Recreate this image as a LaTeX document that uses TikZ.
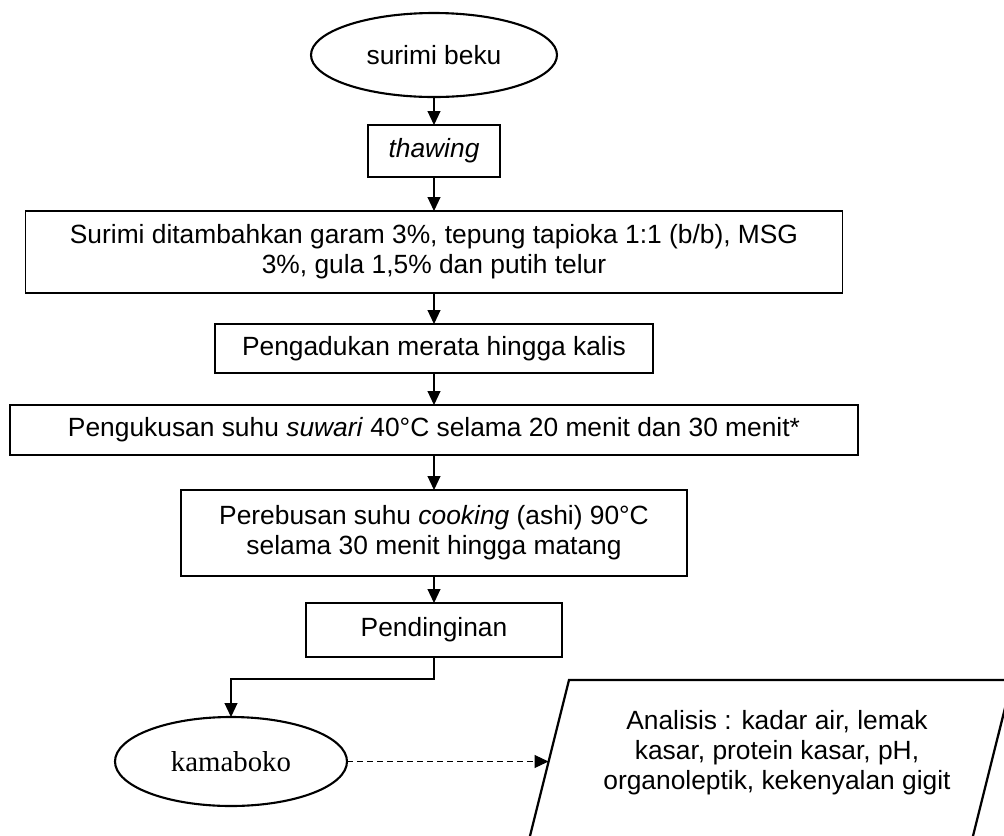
\documentclass[tikz,border=0pt]{standalone}
\usepackage{fontspec}
\setmainfont{Liberation Sans}
\newfontfamily\kamfont{Liberation Serif}
\usetikzlibrary{positioning,arrows.meta,shapes.geometric}

\begin{document}
\begin{tikzpicture}[
    node distance=0.62cm,
    every node/.style={font=\fontsize{15}{17}\selectfont},
    proses/.style={rectangle, draw=black, line width=0.6pt, align=center, inner sep=2pt, outer sep=0pt},
    terminal/.style={ellipse, draw=black, line width=1.2pt, inner sep=0pt, outer sep=0pt},
    luaran/.style={draw=black, line width=1.3pt, line join=miter},
    alur/.style={-{Triangle[length=0.28cm, width=0.26cm]}, line width=0.6pt},
    alurputus/.style={alur, dash pattern=on 0.12cm off 0.08cm}
  ]
    \path[use as bounding box] (0,0) rectangle (20.08,-16.7);
    \clip (0,0) rectangle (20.08,-16.7);

    \node[terminal, minimum width=4.92cm, minimum height=1.68cm] (beku) at (8.68,-1.10) {surimi beku};
    \node[proses, below=0.56cm of beku, minimum width=2.64cm, minimum height=1.04cm] (thawing) {\textit{thawing}};
    \node[proses, below=0.68cm of thawing, minimum width=16.34cm, minimum height=1.64cm] (campur) {Surimi ditambahkan garam 3\%, tepung tapioka 1:1 (b/b), MSG\\3\%, gula 1,5\% dan putih telur};
    \node[proses, below=0.62cm of campur, minimum width=8.76cm, minimum height=0.98cm] (aduk) {Pengadukan merata hingga kalis};
    \node[proses, below=0.64cm of aduk, minimum width=16.96cm, minimum height=1.0cm] (kukus) {Pengukusan suhu \textit{suwari} 40°C selama 20 menit dan 30 menit*};
    \node[proses, below=0.70cm of kukus, minimum width=10.12cm, minimum height=1.72cm] (rebus) {Perebusan suhu \textit{cooking} (ashi) 90°C\\selama 30 menit hingga matang};
    \node[proses, below=0.54cm of rebus, minimum width=5.12cm, minimum height=1.08cm] (dingin) {Pendinginan};

    \node[terminal, below=1.2cm of dingin, xshift=-4.06cm, minimum width=4.64cm, minimum height=1.78cm, font=\kamfont\fontsize{16.4}{19}\selectfont] (kamaboko) {kamaboko};

    % jajaran genjang hasil analisis
    \draw[luaran] (11.38,-13.6) -- (20.24,-13.6) -- (19.34,-17.2) -- (10.48,-17.2) -- cycle;
    \node[align=center] (analisis) at (15.54,-15.06) {Analisis : kadar air, lemak\\kasar, protein kasar, pH,\\organoleptik, kekenyalan gigit};
    \coordinate (masuk) at (10.97,-15.23);

    \draw[alur] (beku) -- (thawing);
    \draw[alur] (thawing) -- (campur);
    \draw[alur] (campur) -- (aduk);
    \draw[alur] (aduk) -- (kukus);
    \draw[alur] (kukus) -- (rebus);
    \draw[alur] (rebus) -- (dingin);
    \draw[alur] (dingin.south) -- ++(0,-0.44) -| (kamaboko.north);
    \draw[alurputus] (kamaboko.east) -- (kamaboko.east -| masuk);
  \end{tikzpicture}
\end{document}
